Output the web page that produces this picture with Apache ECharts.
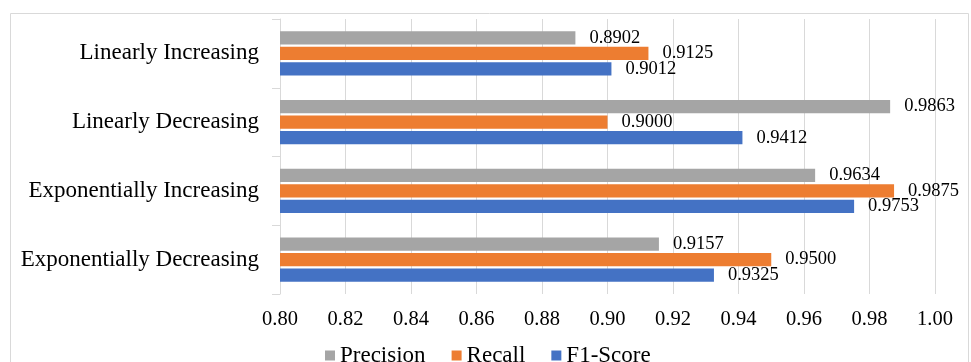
<!DOCTYPE html>
<html>
<head>
<meta charset="utf-8">
<script src="https://cdn.jsdelivr.net/npm/echarts@6/dist/echarts.min.js"></script>
<style>html,body{margin:0;padding:0;background:#fff;}#c{width:971px;height:362px;}</style>
</head>
<body>
<div id="c"></div>
<script>
var categories = ['Linearly Increasing', 'Linearly Decreasing', 'Exponentially Increasing', 'Exponentially Decreasing'];
var precision = [0.8902, 0.9863, 0.9634, 0.9157];
var recall = [0.9125, 0.9000, 0.9875, 0.9500];
var f1 = [0.9012, 0.9412, 0.9753, 0.9325];
var xTicks = { min: 0.80, max: 1.00, interval: 0.02 };

var font = 'Liberation Serif, Times New Roman, serif';
var chart = echarts.init(document.getElementById('c'), null, { renderer: 'canvas' });
function mk(name, data, color) {
  return {
    name: name, type: 'bar', data: data, barWidth: 13.3, barGap: '17%',
    itemStyle: { color: color },
    label: {
      show: true, position: 'right', distance: 14,
      fontFamily: font, fontSize: 18.5, color: '#000',
      formatter: function (p) { return p.value.toFixed(4); }
    }
  };
}
chart.setOption({
  animation: false,
  graphic: [{
    type: 'rect', shape: { x: 10.5, y: 13.5, width: 958, height: 360 },
    style: { fill: 'none', stroke: '#d9d9d9', lineWidth: 1 }, silent: true, z: -1
  }],
  grid: { left: 280, right: 36, top: 19, bottom: 68 },
  legend: {
    data: ['Precision', 'Recall', 'F1-Score'],
    left: 320, top: 339, icon: 'rect', itemWidth: 10, itemHeight: 10, itemGap: 26,
    textStyle: { fontFamily: font, fontSize: 23, color: '#000' }
  },
  xAxis: {
    type: 'value', min: xTicks.min, max: xTicks.max, interval: xTicks.interval,
    axisLine: { show: false }, axisTick: { show: false },
    splitLine: { show: true, lineStyle: { color: '#d9d9d9', width: 1 } },
    axisLabel: { fontFamily: font, fontSize: 20.5, color: '#000', margin: 15,
      formatter: function (v) { return v.toFixed(2); } }
  },
  yAxis: {
    type: 'category', data: categories, inverse: true,
    axisLine: { show: true, lineStyle: { color: '#d9d9d9' } },
    axisTick: { show: true, length: 8, lineStyle: { color: '#d9d9d9' } },
    axisLabel: { fontFamily: font, fontSize: 23, color: '#000', margin: 21 }
  },
  series: [
    mk('Precision', precision, '#A5A5A5'),
    mk('Recall', recall, '#ED7D31'),
    mk('F1-Score', f1, '#4472C4')
  ]
});
</script>
</body>
</html>
